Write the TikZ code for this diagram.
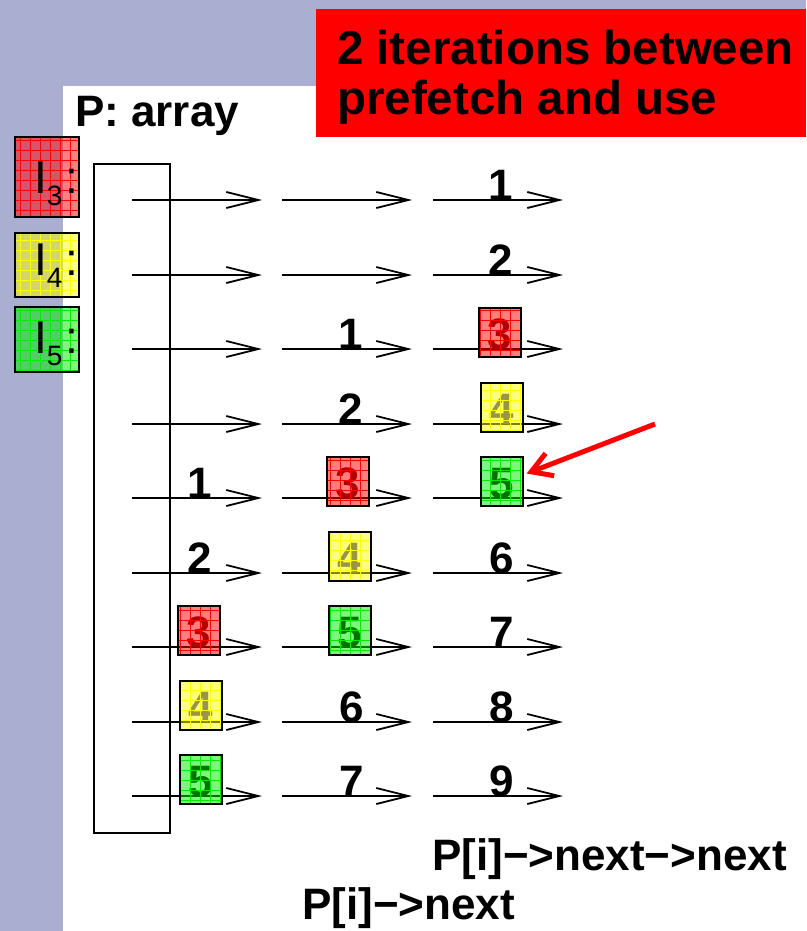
\documentclass[tikz,border=0pt]{standalone}
\usepackage{fontspec}
\setmainfont{Liberation Sans}
\usetikzlibrary{arrows.meta}
\definecolor{lav}{RGB}{170,174,208}
\definecolor{cred}{RGB}{255,0,0}
\definecolor{cyel}{RGB}{255,255,0}
\definecolor{cgrn}{RGB}{0,235,0}
\tikzset{
  big/.style={font=\fontsize{44pt}{48pt}\selectfont\bfseries},
  dig/.style={big, anchor=base, inner sep=0pt},
  ptr/.style={line width=1.8pt, -{Straight Barb[length=32pt,width=16pt]}},
  cellbox/.style={big, anchor=base, inner sep=0pt, text height=41pt, text depth=8pt,
    minimum width=41pt, fill opacity=0.5, text opacity=1},
  lblbox/.style={inner sep=0pt, fill opacity=0.5},
  lbltext/.style={anchor=base west, inner sep=0pt, font=\fontsize{46pt}{48pt}\selectfont},
  heading/.style={anchor=base west, inner sep=0pt, font=\fontsize{47.5pt}{50pt}\selectfont\bfseries},
}
\newcommand\gridover[2]{%
  \begin{scope}
    \clip (#1.south west) rectangle (#1.north east);
    \draw[#2, line width=0.7pt, step=10pt] (#1.south west) grid (#1.north east);
  \end{scope}
  \draw[line width=2pt] (#1.south west) rectangle (#1.north east);
}
\newcommand\markcell[6]{%
  \node[cellbox, fill=#4, text=#6] (#1) at (#2,#3) {#5};
  \gridover{#1}{#4}
}
\newcommand\subnum[1]{\raisebox{-12pt}{\fontsize{28pt}{28pt}\selectfont #1}\hspace{3pt}}
\begin{document}
\begin{tikzpicture}[x=1pt,y=-1pt]
\useasboundingbox (0,0) rectangle (806,931);
\fill[lav] (0,0) rectangle (806,931);
\fill[white] (63,86) rectangle (806,931);
% title box
\node[fill=cred, inner sep=0pt, minimum width=490pt, minimum height=128pt, anchor=north west] (tbox) at (316,9) {};
\node[heading] (t1) at (337,65) {2 iterations between};
\node[heading] (t2) at (337,115) {prefetch and use};
% array label
\node[anchor=base west, inner sep=0pt, big] (plabel) at (75,127) {P: array};
% I labels
\node[lblbox, fill=cred, minimum width=64pt, minimum height=80pt] (i3box) at (47,177) {};
\gridover{i3box}{cred}
\node[lbltext] (i3) at (34,193) {I\subnum{3}:};
\node[lblbox, fill=cyel, minimum width=64pt, minimum height=64pt] (i4box) at (47,265) {};
\gridover{i4box}{cyel}
\node[lbltext] (i4) at (34,275) {I\subnum{4}:};
\node[lblbox, fill=cgrn, minimum width=64pt, minimum height=65pt] (i5box) at (47,339.5) {};
\gridover{i5box}{cgrn}
\node[lbltext] (i5) at (34,353) {I\subnum{5}:};
% array box
\node[draw, line width=2pt, inner sep=0pt, minimum width=76pt, minimum height=669pt] (arr) at (132,498.5) {};
% pointer arrows
\foreach \y [count=\r] in {200,275,349,424,498,573,647,722,796} {
  \foreach \xa/\xb [count=\c] in {132/262,282/412,433/563} {
    \coordinate (s\r\c) at (\xa,\y);
    \coordinate (e\r\c) at (\xb,\y);
    \draw[ptr] (s\r\c) -- (e\r\c);
  }
}
% plain digits
\node[dig] (d13) at (501,200) {1};
\node[dig] (d23) at (501,275) {2};
\node[dig] (d32) at (351,349) {1};
\node[dig] (d42) at (351,424) {2};
\node[dig] (d51) at (200,498) {1};
\node[dig] (d61) at (200,573) {2};
\node[dig] (d63) at (502,573) {6};
\node[dig] (d73) at (502,647) {7};
\node[dig] (d82) at (352,722) {6};
\node[dig] (d83) at (502,722) {8};
\node[dig] (d92) at (352,796) {7};
\node[dig] (d93) at (502,796) {9};
% coloured cells
\markcell{c33}{500}{349}{cred}{3}{red!70!black}
\markcell{c43}{502}{424}{cyel}{4}{yellow!55!black}
\markcell{c53}{502}{498}{cgrn}{5}{green!45!black}
\markcell{c52}{348}{498}{cred}{3}{red!70!black}
\markcell{c62}{350}{573}{cyel}{4}{yellow!55!black}
\markcell{c72}{350}{647}{cgrn}{5}{green!45!black}
\markcell{c71}{199}{647}{cred}{3}{red!70!black}
\markcell{c81}{201}{722}{cyel}{4}{yellow!55!black}
\markcell{c91}{201}{796}{cgrn}{5}{green!45!black}
% red arrow
\coordinate (ra) at (655,424);
\draw[cred, line width=5pt, -{Straight Barb[length=20pt,width=24pt]}] (ra) -- ([xshift=4pt,yshift=8pt]c53.east);
% bottom labels
\node[anchor=base west, inner sep=0pt, big] (nn) at (432,870) {P[i]−>next−>next};
\node[anchor=base west, inner sep=0pt, big] (n1) at (302,919) {P[i]−>next};
\end{tikzpicture}
\end{document}
